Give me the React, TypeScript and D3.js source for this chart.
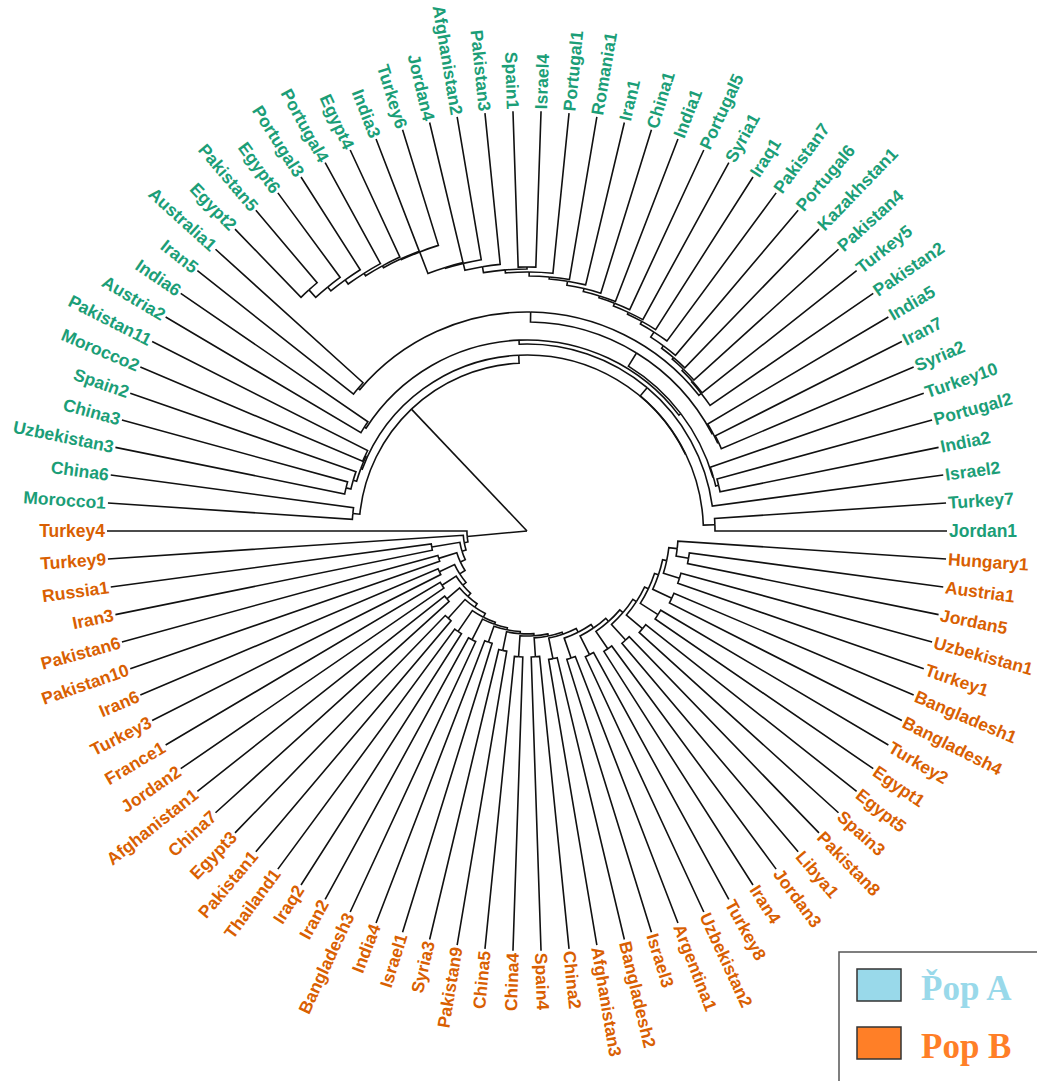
import React, { useMemo } from "react";
import * as d3 from "d3";

// Dendrogram of the two populations. Internal nodes carry their merge height
// (tips at 0, root at 100); leaves are listed in clockwise plotting order.

const rootHeight = 100;

// Newick helpers: a two-way merge, and a chain of successive merges.
const merge = (a: string, b: string, h: number) => `(${a},${b})${h}`;
const chain = (start: string, steps: [string, number][]) =>
  steps.reduce((acc, [piece, h]) => merge(acc, piece, h), start);

// ---- Pop A ----
const popATopLeftSteps: [string, number][] = [
  ["Egypt6", 25],
  ["Portugal3", 26.2],
  ["Portugal4", 27.4],
  ["Egypt4", 28.1],
  ["India3", 28.6],
  ["Turkey6", 28.8],
  ["Jordan4", 34.3],
  ["Afghanistan2", 34.5],
  ["Pakistan3", 36.19],
];
const popATopSteps: [string, number][] = [
  ["(Spain1,Israel4)37.14", 37.62],
  ["Portugal1", 38.33],
  ["Romania1", 39.29],
  ["Iran1", 39.76],
  ["China1", 40.71],
  ["India1", 41.43],
  ["Portugal5", 41.9],
  ["Syria1", 42.62],
  ["Iraq1", 43.1],
  ["Pakistan7", 43.81],
  ["Portugal6", 45.24],
  ["Kazakhstan1", 45.95],
  ["Pakistan4", 46.43],
  ["Turkey5", 46.9],
  ["Pakistan2", 47.14],
];
const popATopLeft = chain("(Egypt2,Pakistan5)22.6", popATopLeftSteps);
const popATop = chain(popATopLeft, popATopSteps);
const popAN1 = merge("(Iran5,Australia1)47.38", popATop, 47.86);
const popAP = merge(popAN1, "(India5,(Iran7,Syria2)49.76)50.0", 50.24);
const popAY = merge(popAP, "(Turkey10,(Portugal2,India2)53.10)53.81", 53.93);
const popAN2 = merge("(Austria2,India6)54.05", popAY, 54.52);
const popAM1 = merge(popAN2, "Israel2", 55.48);
const popAM = merge(popAM1, "(Turkey7,Jordan1)55.24", 58.0);
const popAL = merge("((Uzbekistan3,China3)55.71,Spain2)56.90", "(Morocco2,Pakistan11)57.50", 57.74);
const popANewick = merge("(Morocco1,China6)58.33", merge(popAL, popAM, 58.1), 60);

// ---- Pop B ----
const popBSteps: [string, number][] = [
  ["(Austria1,Jordan5)61", 64],
  ["(Uzbekistan1,Turkey1)62", 66],
  ["(Bangladesh1,Bangladesh4)62", 67],
  ["(Turkey2,Egypt1)63", 68],
  ["(Egypt5,Spain3)64", 69],
  ["(Pakistan8,Libya1)65", 70],
  ["(Jordan3,Iran4)66", 71],
  ["(Turkey8,Uzbekistan2)67", 72],
  ["(Argentina1,Israel3)68", 73],
  ["(Bangladesh2,Afghanistan3)69", 74],
  ["(China2,Spain4)70", 74.5],
  ["(China4,China5)70", 75],
  ["(Pakistan9,Syria3)71", 75.5],
  ["(Israel1,India4)72", 76],
  ["(Bangladesh3,Iran2)71", 76.5],
  ["(Iraq2,Thailand1)71", 77],
  ["(Pakistan1,Egypt3)72", 78],
  ["(China7,Afghanistan1)75", 79],
  ["(Jordan2,France1)76", 80],
  ["(Turkey3,Iran6)77", 81],
  ["(Pakistan10,Pakistan6)78", 82.5],
  ["(Iran3,Russia1)77", 83.8],
  ["Turkey9", 84.8],
  ["Turkey4", 85.7],
];
const popBNewick = chain("Hungary1", popBSteps);

const groupColors = ["#1b9e77", "#d95f02"];
const legendLabels = ["P\u030Cop A", "Pop B"];
const legendFills = ["#99d9ea", "#ff7f27"];

type TreeNode = { name?: string; height: number; children?: TreeNode[] };

function parseNewick(text: string): TreeNode {
  const s = text.replace(/\s+/g, "");
  let i = 0;
  const readNumber = () => {
    const m = /^[0-9.]+/.exec(s.slice(i));
    if (!m) return 0;
    i += m[0].length;
    return parseFloat(m[0]);
  };
  const parse = (): TreeNode => {
    if (s[i] === "(") {
      i++;
      const children: TreeNode[] = [parse()];
      while (s[i] === ",") {
        i++;
        children.push(parse());
      }
      i++; // closing paren
      return { height: readNumber(), children };
    }
    const m = /^[A-Za-z0-9_]+/.exec(s.slice(i));
    const name = m ? m[0] : "";
    i += name.length;
    return { name, height: 0 };
  };
  return parse();
}

const W = 1037;
const H = 1081;
const CX = 527;
const CY = 531;
const TIP_R = 420;
const LABEL_GAP = 2;

export default function App() {
  const { edges, labels } = useMemo(() => {
    const popA = parseNewick(popANewick);
    const popB = parseNewick(popBNewick);
    const tree: TreeNode = { height: rootHeight, children: [popA, popB] };
    const root = d3.hierarchy<TreeNode>(tree, (d) => d.children);
    const nLeaves = root.leaves().length;
    const step = 360 / nLeaves;

    d3.cluster<TreeNode>().size([360, 1]).separation(() => 1)(root);

    // cluster x -> polar angle in degrees (counter-clockwise, 0 = east)
    const angle = d3
      .scaleLinear()
      .domain([0, 360])
      .range([180 - step / 2, -180 - step / 2]);
    const radius = d3.scaleLinear().domain([rootHeight, 0]).range([0, TIP_R]);

    const toXY = (r: number, deg: number): [number, number] => {
      const a = (deg * Math.PI) / 180;
      return [CX + r * Math.cos(a), CY - r * Math.sin(a)];
    };

    const groupOf = new Map<any, number>();
    root.children!.forEach((c, gi) => c.leaves().forEach((l) => groupOf.set(l, gi)));

    const edges = root
      .descendants()
      .filter((d) => d.parent)
      .map((d) => {
        const p = d.parent!;
        const rp = radius(p.data.height);
        const rc = radius(d.data.height);
        const tp = angle(p.x as number);
        const tc = angle(d.x as number);
        const path = d3.path();
        if (rp <= 0.001) {
          path.moveTo(CX, CY);
        } else {
          const [x0, y0] = toXY(rp, tp);
          path.moveTo(x0, y0);
          const a0 = (-tp * Math.PI) / 180;
          const a1 = (-tc * Math.PI) / 180;
          path.arc(CX, CY, rp, a0, a1, a1 < a0);
        }
        const [x1, y1] = toXY(rc, tc);
        path.lineTo(x1, y1);
        return path.toString();
      });

    const labels = root.leaves().map((l) => {
      const t = angle(l.x as number);
      const [x, y] = toXY(TIP_R + LABEL_GAP, t);
      const flip = t > 90 || t < -90;
      return {
        name: l.data.name as string,
        x,
        y,
        rot: flip ? 180 - t : -t,
        anchor: flip ? "end" : "start",
        color: groupColors[groupOf.get(l) ?? 0],
      };
    });

    return { edges, labels };
  }, []);

  return (
    <svg
      width={W}
      height={H}
      viewBox={`0 0 ${W} ${H}`}
      style={{ position: "absolute", left: 0, top: 0, display: "block", background: "#fff" }}
    >
      <g fill="none" stroke="#111" strokeWidth={1.6} strokeLinejoin="miter">
        {edges.map((d, i) => (
          <path key={i} d={d} />
        ))}
      </g>
      <g
        fontFamily="'Liberation Sans', Arial, Helvetica, sans-serif"
        fontWeight={700}
        fontSize={17.5}
      >
        {labels.map((l) => (
          <text
            key={l.name}
            transform={`translate(${l.x},${l.y}) rotate(${l.rot})`}
            textAnchor={l.anchor}
            dominantBaseline="central"
            fill={l.color}
          >
            {l.name}
          </text>
        ))}
      </g>
      <g>
        <rect x={839} y={952} width={230} height={160} fill="#fff" stroke="#555" strokeWidth={1.5} />
        {legendLabels.map((lab, i) => (
          <g key={lab} transform={`translate(0, ${i * 58})`}>
            <rect
              x={857}
              y={969}
              width={44}
              height={32}
              fill={legendFills[i]}
              stroke="#333"
              strokeWidth={1.5}
            />
            <text
              x={921}
              y={1000}
              fontFamily="'Liberation Serif', 'Times New Roman', serif"
              fontWeight={700}
              fontSize={35}
              fill={legendFills[i]}
            >
              {lab}
            </text>
          </g>
        ))}
      </g>
    </svg>
  );
}
